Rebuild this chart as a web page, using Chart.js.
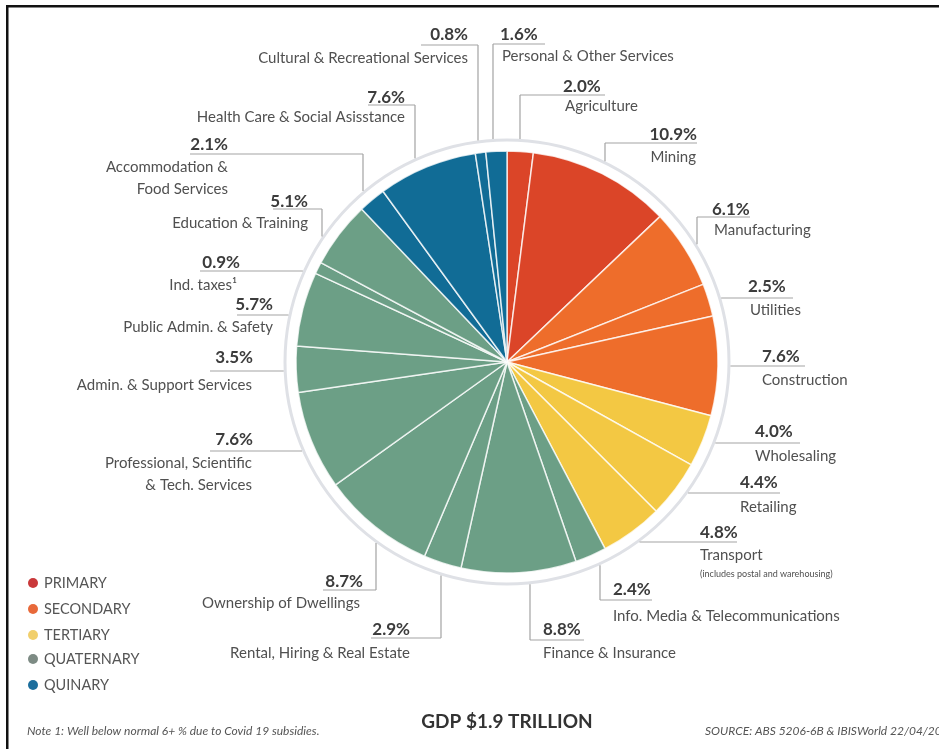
<!DOCTYPE html>
<html><head><meta charset="utf-8">
<script src="https://cdn.jsdelivr.net/npm/chart.js@4"></script>
<style>html,body{margin:0;padding:0;background:#fff;overflow:hidden}canvas{display:block}</style>
</head><body>
<canvas id="c" width="939" height="749"></canvas>
<script>
// ---------- DATA ----------
const categories = ["Agriculture","Mining","Manufacturing","Utilities","Construction","Wholesaling","Retailing","Transport","Info. Media & Telecommunications","Finance & Insurance","Rental, Hiring & Real Estate","Ownership of Dwellings","Professional, Scientific & Tech. Services","Admin. & Support Services","Public Admin. & Safety","Ind. taxes¹","Education & Training","Accommodation & Food Services","Health Care & Social Asisstance","Cultural & Recreational Services","Personal & Other Services"];
const shares = [2.0,10.9,6.1,2.5,7.6,4.0,4.4,4.8,2.4,8.8,2.9,8.7,7.6,3.5,5.7,0.9,5.1,2.1,7.6,0.8,1.6];
const sectorOf = ["PRIMARY","PRIMARY","SECONDARY","SECONDARY","SECONDARY","TERTIARY","TERTIARY","TERTIARY","QUATERNARY","QUATERNARY","QUATERNARY","QUATERNARY","QUATERNARY","QUATERNARY","QUATERNARY","QUATERNARY","QUATERNARY","QUINARY","QUINARY","QUINARY","QUINARY"];
const sectors = ["PRIMARY","SECONDARY","TERTIARY","QUATERNARY","QUINARY"];
const labelLines = [["Agriculture"],["Mining"],["Manufacturing"],["Utilities"],["Construction"],["Wholesaling"],["Retailing"],["Transport"],["Info. Media & Telecommunications"],["Finance & Insurance"],["Rental, Hiring & Real Estate"],["Ownership of Dwellings"],["Professional, Scientific","& Tech. Services"],["Admin. & Support Services"],["Public Admin. & Safety"],["Ind. taxes¹"],["Education & Training"],["Accommodation &","Food Services"],["Health Care & Social Asisstance"],["Cultural & Recreational Services"],["Personal & Other Services"]];
const title = "GDP $1.9 TRILLION";
const note = "Note 1: Well below normal 6+ % due to Covid 19 subsidies.";
const source = "SOURCE: ABS 5206-6B & IBISWorld 22/04/2022";

// ---------- STYLE ----------
const sliceColor = {PRIMARY:"#db4528",SECONDARY:"#ee6d2b",TERTIARY:"#f3c843",QUATERNARY:"#6c9f86",QUINARY:"#116c96"};
const legendColor = {PRIMARY:"#c9383a",SECONDARY:"#e8693a",TERTIARY:"#f1cf6c",QUATERNARY:"#7d8b84",QUINARY:"#1c6e9d"};
const FONT = "Lato, 'Open Sans', sans-serif";

// label layout: a=align, px/py percent pos, nx/ny name pos, hy leader y, hx leader x-range ('ring' = meet ring), vx vertical leader x
const layout = [
 {a:'l',px:563,py:87, nx:565,ny:106,hy:95, hx:[520,605],vx:520},
 {a:'r',px:697,py:135,nx:696,ny:157,hy:143,hx:[605,697],vx:605},
 {a:'l',px:712,py:210,nx:714,ny:230,hy:217,hx:[697,750],vx:697},
 {a:'l',px:748,py:287,nx:750,ny:310,hy:298,hx:['ring',793]},
 {a:'l',px:762,py:357,nx:762,ny:380,hy:366,hx:['ring',805]},
 {a:'l',px:755,py:432,nx:755,ny:456,hy:443,hx:['ring',800]},
 {a:'l',px:740,py:483,nx:740,ny:507,hy:493,hx:['ring',780]},
 {a:'l',px:700,py:533,nx:700,ny:555,hy:542,hx:['ring',737],sub:"(includes postal and warehousing)"},
 {a:'l',px:613,py:590,nx:613,ny:616,hy:600,hx:[600,652],vx:600},
 {a:'l',px:543,py:630,nx:543,ny:653,hy:640,hx:[530,584],vx:530},
 {a:'r',px:410,py:630,nx:410,ny:653,hy:638,hx:[371,441],vx:441},
 {a:'r',px:363,py:582,nx:360,ny:603,hy:590,hx:[323,376],vx:376},
 {a:'r',px:253,py:440,nx:252,ny:463,hy:451,hx:[210,'ring']},
 {a:'r',px:253,py:358,nx:252,ny:385,hy:371,hx:[210,'ring']},
 {a:'r',px:273,py:305,nx:273,ny:327,hy:315,hx:[237,'ring']},
 {a:'r',px:240,py:263,nx:237,ny:285,hy:271,hx:[200,'ring']},
 {a:'r',px:308,py:202,nx:308,ny:223,hy:209,hx:[273,322],vx:322},
 {a:'r',px:228,py:145,nx:228,ny:167,hy:154,hx:[190,363],vx:363},
 {a:'r',px:405,py:98, nx:405,ny:117,hy:105,hx:[368,415],vx:415},
 {a:'r',px:468,py:35, nx:468,ny:58, hy:45, hx:[421,478],vx:478},
 {a:'l',px:500,py:35, nx:502,ny:56, hy:44, hx:[493,545],vx:493}
];

const decor = {
  id:'decor',
  afterDraw(chart){
    const ctx = chart.ctx;
    const arc = chart.getDatasetMeta(0).data[0];
    const cx = arc.x, cy = arc.y, R = arc.outerRadius;
    const ringR = R + 11;
    ctx.save();
    // ring
    ctx.beginPath(); ctx.arc(cx,cy,ringR,0,Math.PI*2);
    ctx.strokeStyle = "#dfe1e6"; ctx.lineWidth = 3; ctx.stroke();
    // leaders & labels
    const rr = ringR + 1.5;
    layout.forEach((L,i)=>{
      ctx.strokeStyle = "#a3a3a3"; ctx.lineWidth = 1.2;
      ctx.beginPath();
      let x1 = L.hx[0], x2 = L.hx[1];
      if (x1==='ring' || x2==='ring'){
        const dy = L.hy - cy;
        const dx = Math.sqrt(Math.max(rr*rr - dy*dy,0));
        if (x1==='ring') x1 = cx + dx;
        if (x2==='ring') x2 = cx - dx;
      }
      ctx.moveTo(x1,L.hy); ctx.lineTo(x2,L.hy);
      if (L.vx!==undefined){
        const dx = L.vx - cx;
        const dy = Math.sqrt(Math.max(rr*rr - dx*dx,0));
        const yr = L.hy < cy ? cy - dy : cy + dy;
        ctx.moveTo(L.vx,L.hy); ctx.lineTo(L.vx,yr);
      }
      ctx.stroke();
      ctx.textAlign = L.a==='l' ? 'left' : 'right';
      ctx.textBaseline = 'middle';
      ctx.fillStyle = "#3c3c3c";
      ctx.font = "bold 17px " + FONT;
      ctx.fillText(shares[i].toFixed(1) + "%", L.px, L.py);
      ctx.fillStyle = "#505050";
      ctx.font = "15px " + FONT;
      labelLines[i].forEach((t,k)=>ctx.fillText(t, L.nx, L.ny + k*22));
      if (L.sub){ ctx.font = "9px " + FONT; ctx.fillText(L.sub, L.nx, L.ny + 19); }
    });
    // legend
    const ly = [583,609,635,659,685];
    sectors.forEach((s,k)=>{
      ctx.beginPath(); ctx.arc(33,ly[k],5,0,Math.PI*2);
      ctx.fillStyle = legendColor[s]; ctx.fill();
      ctx.fillStyle = "#555"; ctx.font = "14.5px " + FONT;
      ctx.textAlign='left'; ctx.textBaseline='middle';
      ctx.fillText(s, 44, ly[k]);
    });
    // footer
    ctx.fillStyle = "#333"; ctx.font = "bold 19px " + FONT; ctx.textAlign='center';
    ctx.fillText(title, 507, 722);
    ctx.fillStyle = "#555"; ctx.font = "italic 12px " + FONT; ctx.textAlign='left';
    ctx.fillText(note, 27, 731);
    ctx.fillText(source, 705, 731);
    // frame
    ctx.fillStyle = "#111";
    ctx.fillRect(6,5,939,2.5);
    ctx.fillRect(6,5,2.5,749);
    ctx.restore();
  }
};

new Chart(document.getElementById('c'), {
  type:'pie',
  data:{labels:categories, datasets:[{data:shares, backgroundColor:sectorOf.map(s=>sliceColor[s]), borderColor:"rgba(255,255,255,0.78)", borderWidth:1.5}]},
  options:{
    responsive:false, animation:false,
    layout:{padding:{left:295.25,right:220.25,top:150.25,bottom:175.25}},
    plugins:{legend:{display:false},tooltip:{enabled:false}}
  },
  plugins:[decor]
});
</script>
</body></html>
